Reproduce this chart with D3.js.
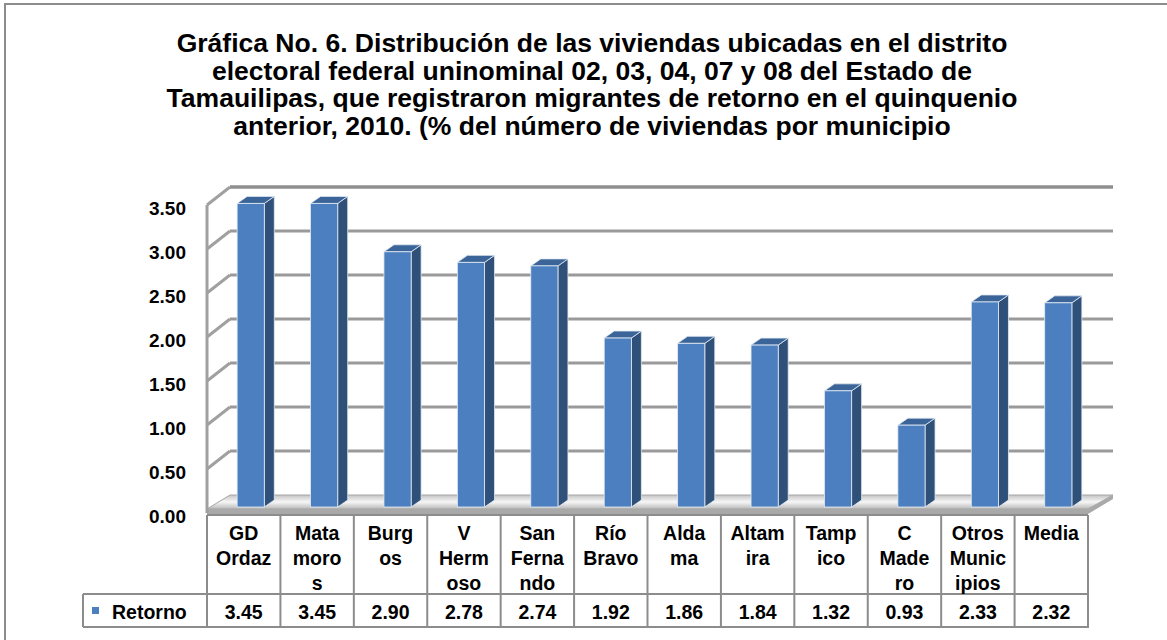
<!DOCTYPE html>
<html><head><meta charset="utf-8">
<script src="https://cdn.jsdelivr.net/npm/d3@7"></script>
<style>body{margin:0;background:#fff}svg{display:block}</style>
</head><body>
<svg id="c" width="1167" height="640"></svg>
<script>
const titleLines = [
  "Gráfica No. 6. Distribución de las viviendas ubicadas en el distrito",
  "electoral federal uninominal 02, 03, 04, 07 y 08 del Estado de",
  "Tamauilipas, que registraron migrantes de retorno en el quinquenio",
  "anterior, 2010. (% del número de viviendas por municipio"
];
const categories = ["GD Ordaz","Matamoros","Burgos","V Hermoso","San Fernando","Río Bravo","Aldama","Altamira","Tampico","C Madero","Otros Municipios","Media"];
const categoryLines = [["GD","Ordaz"],["Mata","moro","s"],["Burg","os"],["V","Herm","oso"],["San","Ferna","ndo"],["Río","Bravo"],["Alda","ma"],["Altam","ira"],["Tamp","ico"],["C","Made","ro"],["Otros","Munic","ipios"],["Media"]];
const seriesName = "Retorno";
const retorno = [3.45,3.45,2.90,2.78,2.74,1.92,1.86,1.84,1.32,0.93,2.33,2.32];
const yTicks = [0,0.5,1,1.5,2,2.5,3,3.5];

const svg = d3.select("#c");
const FONT = "'Liberation Sans', Arial, sans-serif";

// outer frame
svg.append("rect").attr("x",5).attr("y",4).attr("width",1190).attr("height",680)
  .attr("fill","none").attr("stroke","#8c8c8c").attr("stroke-width",2);

// title
svg.append("g").attr("transform","translate(592,0) scale(1.04,1)")
  .selectAll("text").data(titleLines).join("text")
  .attr("x",0).attr("y",(d,i)=>52+i*27.7)
  .attr("text-anchor","middle").attr("font-family",FONT).attr("font-weight","bold")
  .attr("font-size",25.5).attr("fill","#000").text(d=>d);

const x0 = 207, x1 = 1088;
const x = d3.scaleBand().domain(categories).range([x0,x1]).padding(0);
const y = d3.scaleLinear().domain([0,3.5]).range([513,205]);
const DX = 23, DY = -18;       // wall depth
const BX = 7, BY = -6;         // bar plane offset
const bdx = 10, bdy = -7;      // bar depth

const defs = svg.append("defs");
const fg = defs.append("linearGradient").attr("id","floor").attr("x1","0").attr("y1","0").attr("x2","0").attr("y2","1");
fg.append("stop").attr("offset","0").attr("stop-color","#c4c4c4");
fg.append("stop").attr("offset","0.5").attr("stop-color","#f6f6f6");
fg.append("stop").attr("offset","1").attr("stop-color","#b8b8b8");

// floor plate
const fy = y(0);
svg.append("path")
  .attr("d",`M${x0},${fy-4} L${x0+DX},${fy+DY} L${x1+DX+2},${fy+DY} L${x1},${fy-4} Z`)
  .attr("fill","url(#floor)").attr("stroke","#a6a6a6").attr("stroke-width",1);
svg.append("path")
  .attr("d",`M${x0},${fy-4} L${x1},${fy-4} L${x1+DX+2},${fy+DY} L${x1+DX+2},${fy+DY+4} L${x1},${fy+1} L${x0},${fy+1} Z`)
  .attr("fill","#a9a9a9");

// back wall gridlines
const grid = svg.append("g");
grid.selectAll("line.g").data(yTicks.filter(d=>d>0)).join("line")
  .attr("x1",x0+DX).attr("x2",x1+DX+2)
  .attr("y1",d=>y(d)+DY).attr("y2",d=>y(d)+DY)
  .attr("stroke",d=>d===3.5?"#8f8f8f":"#9a9a9a").attr("stroke-width",d=>d===3.5?3.5:3);
// left wall slanted ticks
grid.selectAll("line.s").data(yTicks.filter(d=>d>0)).join("line")
  .attr("x1",x0).attr("x2",x0+DX)
  .attr("y1",d=>y(d)).attr("y2",d=>y(d)+DY)
  .attr("stroke","#a0a0a0").attr("stroke-width",3);
grid.append("line").attr("x1",x0).attr("x2",x0).attr("y1",y(3.5)).attr("y2",fy)
  .attr("stroke","#a0a0a0").attr("stroke-width",3);

// y axis labels
const yAxis = d3.axisLeft(y).tickValues(yTicks).tickSize(0).tickPadding(0).tickFormat(d3.format(".2f"));
const ya = svg.append("g").attr("transform","translate(186,3)").call(yAxis);
ya.select(".domain").remove();
ya.selectAll("text").attr("font-family",FONT).attr("font-weight","bold").attr("font-size",19).attr("fill","#000");

// bars
const bw = x.bandwidth()*0.37;
const bars = svg.append("g").selectAll("g").data(categories).join("g");
bars.each(function(c,i){
  const g = d3.select(this);
  const xl = x(c) + BX + (x.bandwidth()-bw)/2;
  const xr = xl + bw;
  const yt = y(retorno[i]) + BY;
  const yb = y(0) + BY;
  g.append("path").attr("d",`M${xr},${yt} L${xr+bdx},${yt+bdy} L${xr+bdx},${yb+bdy} L${xr},${yb} Z`)
    .attr("fill","#2e5079").attr("stroke","#e3eaf3").attr("stroke-width",0.8);
  g.append("path").attr("d",`M${xl},${yt} L${xl+bdx},${yt+bdy} L${xr+bdx},${yt+bdy} L${xr},${yt} Z`)
    .attr("fill","#3b6598").attr("stroke","#e3eaf3").attr("stroke-width",0.8);
  g.append("rect").attr("x",xl).attr("y",yt).attr("width",bw).attr("height",yb-yt)
    .attr("fill","#4b7fbf").attr("stroke","#e3eaf3").attr("stroke-width",0.8);
});

// data table
const hTop = 515, hBot = 594, vBot = 627, legL = 83;
const tb = svg.append("g").attr("stroke","#8c8c8c").attr("stroke-width",2);
tb.append("line").attr("x1",x0).attr("x2",x1).attr("y1",hTop).attr("y2",hTop);
tb.append("line").attr("x1",legL).attr("x2",x1).attr("y1",hBot).attr("y2",hBot);
tb.append("line").attr("x1",legL).attr("x2",x1+1).attr("y1",vBot).attr("y2",vBot);
tb.append("line").attr("x1",legL).attr("x2",legL).attr("y1",hBot).attr("y2",vBot);
tb.selectAll("line.v").data(categories.concat(["_end"])).join("line")
  .attr("x1",(d,i)=>i<categories.length?x(d):x1).attr("x2",(d,i)=>i<categories.length?x(d):x1)
  .attr("y1",hTop).attr("y2",vBot);

const hdr = svg.append("g").attr("font-family",FONT).attr("font-weight","bold").attr("font-size",19.5).attr("fill","#000").attr("text-anchor","middle");
categories.forEach((c,i)=>{
  hdr.append("g").selectAll("text").data(categoryLines[i]).join("text")
    .attr("x",x(c)+x.bandwidth()/2).attr("y",(d,j)=>540+j*25).text(d=>d);
});
hdr.selectAll("text.v").data(retorno).join("text")
  .attr("x",(d,i)=>x(categories[i])+x.bandwidth()/2).attr("y",619)
  .text(d=>d3.format(".2f")(d));

// legend
svg.append("rect").attr("x",92).attr("y",607).attr("width",7).attr("height",7).attr("fill","#4b7fbf");
svg.append("text").attr("x",112).attr("y",619).attr("font-family",FONT).attr("font-weight","bold")
  .attr("font-size",19.5).attr("fill","#000").text(seriesName);
</script>
</body></html>
